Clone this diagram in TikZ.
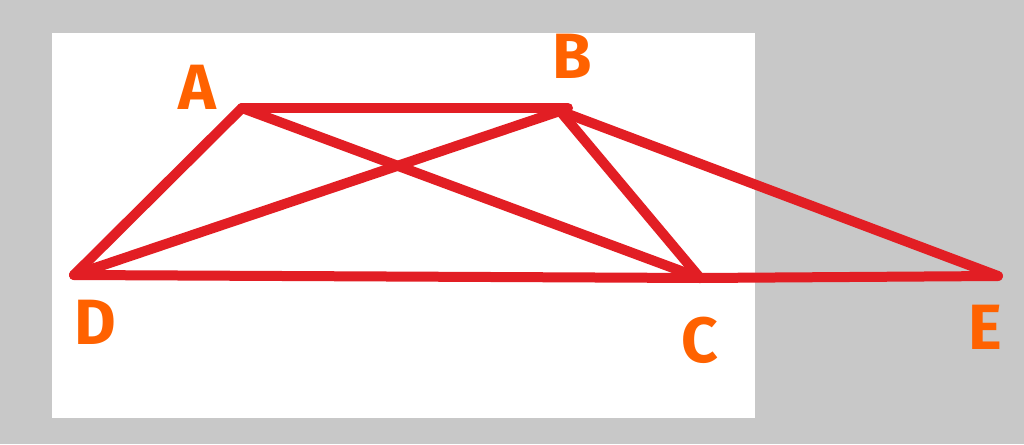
\documentclass[tikz,border=0pt]{standalone}
\usepackage{fontspec}
\setmainfont{Fira Sans}
\definecolor{bggray}{RGB}{200,200,200}
\definecolor{linered}{RGB}{226,30,36}
\definecolor{lblorange}{RGB}{255,98,0}
\begin{document}
\begin{tikzpicture}[x=1pt,y=-1pt,
  edge/.style={draw=linered,line width=10pt,line cap=round,line join=round},
  lbl/.style={text=lblorange,font=\fontsize{64}{64}\selectfont\bfseries,inner sep=0pt}]
\useasboundingbox (0,0) rectangle (1024,444);
\fill[bggray] (0,0) rectangle (1024,444);
\fill[white] (52,33) rectangle (755,418);
\coordinate (A) at (242,108);
\coordinate (B) at (560,111);
\coordinate (D) at (74,275);
\coordinate (C) at (700,278);
\coordinate (E) at (998,276);
\coordinate (Bend) at (568,108);
\draw[edge] (A) -- (Bend);
\draw[edge] (A) -- (D);
\draw[edge] (A) -- (C);
\draw[edge] (B) -- (D);
\draw[edge] (B) -- (C);
\draw[edge] (B) -- (E);
\draw[edge] (D) -- (C) -- (E);
\node[lbl] (la) at (197,87) {A};
\node[lbl] (lb) at (572,56) {B};
\node[lbl] (ld) at (95,322) {D};
\node[lbl] (lc) at (700,340) {C};
\node[lbl] (le) at (985,327) {E};
\end{tikzpicture}
\end{document}
